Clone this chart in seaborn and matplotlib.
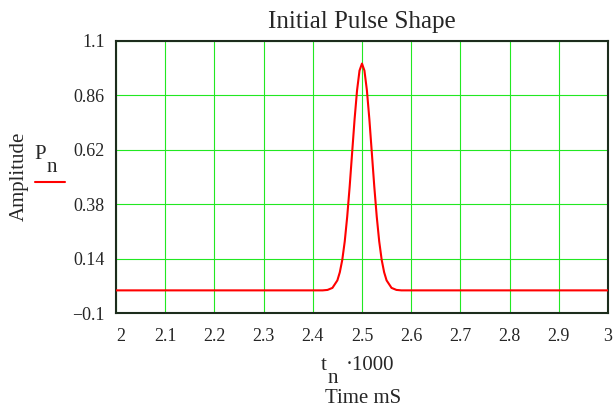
import pandas as pd
import matplotlib
matplotlib.use("Agg")
import matplotlib.pyplot as plt
import seaborn as sns
from matplotlib.lines import Line2D

# pulse samples (time in ms, amplitude)
time_ms = [2.000, 2.420, 2.430, 2.440, 2.450, 2.455, 2.460, 2.465, 2.470, 2.475,
           2.480, 2.485, 2.490, 2.495, 2.500, 2.505, 2.510, 2.515, 2.520, 2.525,
           2.530, 2.535, 2.540, 2.545, 2.550, 2.560, 2.570, 2.580, 3.000]
amplitude = [0.000, 0.000, 0.002, 0.011, 0.044, 0.080, 0.135, 0.216, 0.325, 0.458,
             0.607, 0.755, 0.882, 0.969, 1.000, 0.969, 0.882, 0.755, 0.607, 0.458,
             0.325, 0.216, 0.135, 0.080, 0.044, 0.011, 0.002, 0.000, 0.000]

x_ticks = [2.0, 2.1, 2.2, 2.3, 2.4, 2.5, 2.6, 2.7, 2.8, 2.9, 3.0]
x_labels = ["2", "2.1", "2.2", "2.3", "2.4", "2.5", "2.6", "2.7", "2.8", "2.9", "3"]
y_ticks = [-0.1, 0.14, 0.38, 0.62, 0.86, 1.1]
y_labels = ["\u22120.1", "0.14", "0.38", "0.62", "0.86", "1.1"]

df = pd.DataFrame({"t": time_ms, "P": amplitude})

sns.set_style("white")
plt.rcParams["font.family"] = ["Liberation Serif", "DejaVu Serif"]

fig = plt.figure(figsize=(6.13, 4.13), dpi=100)
ax = fig.add_axes([0.189, 0.242, 0.803, 0.659])

sns.lineplot(data=df, x="t", y="P", color="#ff0000", linewidth=1.5, ax=ax, zorder=3)

ax.set_xlim(2.0, 3.0)
ax.set_ylim(-0.1, 1.1)
ax.set_xticks(x_ticks)
ax.set_xticklabels(x_labels, fontsize=13)
ax.get_xticklabels()[0].set_horizontalalignment("left")
ax.set_yticks(y_ticks)
ax.set_yticklabels(y_labels, fontsize=13)
ax.tick_params(axis="x", length=0, pad=11)
ax.tick_params(axis="y", length=0, pad=8)
ax.grid(True, color="#22e822", linewidth=0.8)
ax.set_axisbelow(True)
for s in ax.spines.values():
    s.set_color("#1c2c1c")
    s.set_linewidth(1.5)
    s.set_visible(True)

ax.set_xlabel("")
ax.set_ylabel("")
ax.set_title("Initial Pulse Shape", fontsize=18, pad=9)

# y label: "Amplitude" plus the P_n trace marker
fig.text(0.031, 0.573, "Amplitude", rotation=90, fontsize=15, ha="center", va="center")
fig.text(0.056, 0.627, "P", fontsize=15, ha="left", va="center")
fig.text(0.076, 0.594, "n", fontsize=15, ha="left", va="center")
fig.add_artist(Line2D([0.057, 0.106], [0.559, 0.559], color="#ff0000", linewidth=1.5))

# x label: t_n*1000 / Time mS
fig.text(0.524, 0.114, "t", fontsize=15, ha="left", va="center")
fig.text(0.534, 0.083, "n", fontsize=15, ha="left", va="center")
fig.text(0.564, 0.114, "\u00b71000", fontsize=15, ha="left", va="center")
fig.text(0.592, 0.036, "Time mS", fontsize=15, ha="center", va="center")

plt.savefig("out.png", dpi=100)
plt.close()
